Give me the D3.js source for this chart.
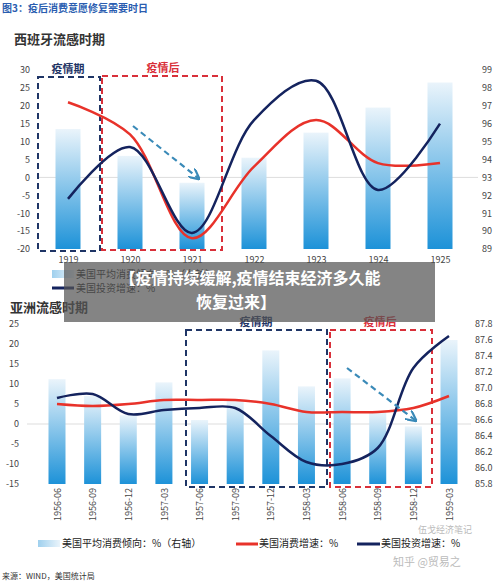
<!DOCTYPE html><html><head><meta charset="utf-8"><script src="https://cdn.jsdelivr.net/npm/d3@7"></script>
<style>body{margin:0;background:#fff}text{font-family:"Noto Sans CJK SC","Noto Sans",sans-serif}</style></head><body>
<svg id="c" width="500" height="583"></svg>
<script>
const years=["1919","1920","1921","1922","1923","1924","1925"];
const spainProp=[95.7,94.2,92.7,94.1,95.5,96.9,98.3];
const spainCons=[21,12,-17,3,16,4,4];
const spainInv=[-6,8.5,-15.5,16,27,-3.5,15];
const spainLeftTicks=[30,25,20,15,10,5,0,-5,-10,-15,-20];
const spainRightTicks=[99,98,97,96,95,94,93,92,91,90,89];
const quarters=["1956-06","1956-09","1956-12","1957-03","1957-06","1957-09","1957-12","1958-03","1958-06","1958-09","1958-12","1959-03"];
const asiaProp=[87.11,86.9,86.66,87.07,86.6,86.85,87.47,87.02,87.12,86.7,86.52,87.6];
const asiaCons=[5,4.5,5,6,6,6,5,3,3,3,4,7];
const asiaInv=[6.5,7.5,2.5,3.5,4,4,-3,-9.5,-10,-6,14,22];
const asiaLeftTicks=[25,20,15,10,5,0,-5,-10,-15];
const asiaRightTicks=[87.8,87.6,87.4,87.2,87.0,86.8,86.6,86.4,86.2,86.0,85.8];

const svg=d3.select("#c");
const defs=svg.append("defs");
const g=defs.append("linearGradient").attr("id","bg").attr("x1",0).attr("y1",0).attr("x2",0).attr("y2",1);
g.append("stop").attr("offset","0%").attr("stop-color","#eaf4fb");
g.append("stop").attr("offset","100%").attr("stop-color","#1d92d8");
const lg=defs.append("linearGradient").attr("id","lg").attr("x1",0).attr("y1",0).attr("x2",1).attr("y2",0);
lg.append("stop").attr("offset","0%").attr("stop-color","#9fd0ee");
lg.append("stop").attr("offset","100%").attr("stop-color","#eaf4fb");
const mk=defs.append("marker").attr("id","ar").attr("viewBox","0 0 10 10").attr("refX",8).attr("refY",5).attr("markerWidth",5).attr("markerHeight",5).attr("orient","auto");
mk.append("path").attr("d","M0,0L10,5L0,10").attr("fill","none").attr("stroke","#3a8ab8").attr("stroke-width",2);

svg.append("text").attr("x",2).attr("y",12).attr("font-size",10).attr("font-weight","bold").attr("fill","#2a5db0").text("图3：疫后消费意愿修复需要时日");

function chart(o){
  const x=d3.scalePoint().domain(o.cats).range(o.xr);
  const yl=d3.scaleLinear().domain(o.ld).range(o.yr);
  const yr=d3.scaleLinear().domain(o.rd).range(o.yr);
  svg.append("text").attr("x",o.tx).attr("y",o.ty).attr("font-size",13).attr("font-weight","bold").attr("fill","#333").text(o.title);
  svg.append("line").attr("x1",o.xr[0]-30).attr("x2",o.xr[1]+o.ro).attr("y1",yl(0)).attr("y2",yl(0)).attr("stroke","#ddd");
  const la=svg.append("g").attr("transform",`translate(${o.xr[0]-30},0)`).call(d3.axisLeft(yl).tickValues(o.lt).tickSize(0).tickPadding(8).tickFormat(d=>d));
  const ra=svg.append("g").attr("transform",`translate(${o.xr[1]+o.ro},0)`).call(d3.axisRight(yr).tickValues(o.rt).tickSize(0).tickPadding(4).tickFormat(o.rf));
  [la,ra].forEach(a=>{a.select(".domain").remove();a.selectAll("text").attr("font-size",9).attr("fill","#444").attr("font-family","Liberation Sans");});
  svg.selectAll(null).data(o.prop).enter().append("rect").attr("x",(d,i)=>x(o.cats[i])-o.bw/2).attr("width",o.bw)
    .attr("y",d=>yr(d)).attr("height",d=>yr(o.rd[0])-yr(d)).attr("fill","url(#bg)");
  o.boxes.forEach(b=>{
    svg.append("rect").attr("x",b[0]).attr("y",b[1]).attr("width",b[2]-b[0]).attr("height",b[3]-b[1]).attr("fill","none").attr("stroke",b[4]).attr("stroke-width",2).attr("stroke-dasharray","6,4");
    svg.append("text").attr("x",b[5]).attr("y",b[6]).attr("text-anchor","middle").attr("font-size",11).attr("font-weight","bold").attr("fill",b[4]).text(b[7]);
  });
  const line=d3.line().x((d,i)=>x(o.cats[i])).y(d=>yl(d)).curve(d3.curveCatmullRom.alpha(0.5));
  svg.append("path").attr("d",line(o.cons)).attr("fill","none").attr("stroke","#e8322a").attr("stroke-width",2.5);
  svg.append("path").attr("d",line(o.inv)).attr("fill","none").attr("stroke","#14235e").attr("stroke-width",2.5);
  svg.append("line").attr("x1",o.arrow[0]).attr("y1",o.arrow[1]).attr("x2",o.arrow[2]).attr("y2",o.arrow[3]).attr("stroke","#3a8ab8").attr("stroke-width",2.2).attr("stroke-dasharray","6,4").attr("marker-end","url(#ar)");
  const xa=svg.append("g").attr("transform",`translate(0,${o.yr[0]})`).call(d3.axisBottom(x).tickSize(0).tickPadding(o.rot?5:8));
  xa.select(".domain").remove();
  xa.selectAll("text").attr("font-size",9).attr("fill","#444").attr("font-family","Liberation Sans");
  if(o.rot) xa.selectAll("text").attr("transform","rotate(-90)").attr("text-anchor","end").attr("dx","-4").attr("dy","0.35em").attr("x",0).attr("y",0);
}
chart({cats:years,xr:[68,440],yr:[249,70],ld:[-20,30],rd:[89,99],lt:spainLeftTicks,rt:spainRightTicks,rf:d=>d,bw:25,ro:38,
  prop:spainProp,cons:spainCons,inv:spainInv,title:"西班牙流感时期",tx:14,ty:44,
  boxes:[[38,77,100,251,"#1f3566",68,73,"疫情期"],[102,76,222,250,"#d9303a",163,72,"疫情后"]],arrow:[133,126,198,178]});
chart({cats:quarters,xr:[57,449],yr:[484,324],ld:[-15,25],rd:[85.8,87.8],lt:asiaLeftTicks,rt:asiaRightTicks,rf:d3.format(".1f"),bw:17,ro:22,
  prop:asiaProp,cons:asiaCons,inv:asiaInv,title:"亚洲流感时期",tx:10,ty:312,rot:true,
  boxes:[[186,330,327,487,"#1f3566",256,326,"疫情期"],[330,330,432,487,"#d9303a",380,326,"疫情后"]],arrow:[347,368,415,420]});

const l1=svg.append("g").attr("font-size",10).attr("fill","#222");
l1.append("rect").attr("x",52).attr("y",270).attr("width",22).attr("height",8).attr("fill","url(#lg)");
l1.append("text").attr("x",76).attr("y",278).text("美国平均消费倾向：%（右轴）");
l1.append("line").attr("x1",52).attr("x2",74).attr("y1",288).attr("y2",288).attr("stroke","#14235e").attr("stroke-width",3);
l1.append("text").attr("x",76).attr("y",292).text("美国投资增速：%");
const l2=svg.append("g").attr("font-size",10).attr("fill","#222");
l2.append("rect").attr("x",38).attr("y",540).attr("width",22).attr("height",7).attr("fill","url(#lg)");
l2.append("text").attr("x",62).attr("y",547).text("美国平均消费倾向：%（右轴）");
l2.append("line").attr("x1",236).attr("x2",258).attr("y1",544).attr("y2",544).attr("stroke","#e8322a").attr("stroke-width",3);
l2.append("text").attr("x",259).attr("y",547).text("美国消费增速：%");
l2.append("line").attr("x1",357).attr("x2",380).attr("y1",544).attr("y2",544).attr("stroke","#14235e").attr("stroke-width",3);
l2.append("text").attr("x",381).attr("y",547).text("美国投资增速：%");
svg.append("text").attr("x",2).attr("y",579).attr("font-size",8).attr("fill","#333").text("来源：WIND，美国统计局");
svg.append("text").attr("x",393).attr("y",566).attr("font-size",11).attr("fill","#bbb").text("知乎 @贸易之");
svg.append("text").attr("x",418).attr("y",533).attr("font-size",9).attr("fill","#bbb").text("伍戈经济笔记");
svg.append("rect").attr("x",64).attr("y",262).attr("width",371).attr("height",60).attr("fill","#555").attr("opacity",0.72);
svg.append("text").attr("x",250).attr("y",284).attr("text-anchor","middle").attr("font-size",16).attr("font-weight","bold").attr("fill","#fff").text("【疫情持续缓解,疫情结束经济多久能");
svg.append("text").attr("x",236).attr("y",308).attr("text-anchor","middle").attr("font-size",16).attr("font-weight","bold").attr("fill","#fff").text("恢复过来】");
</script></body></html>
